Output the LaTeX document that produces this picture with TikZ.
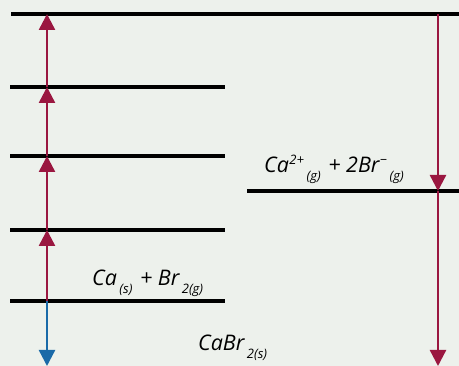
\documentclass[tikz,border=0pt]{standalone}
\usepackage{fontspec}
\setmainfont{Open Sans}
\usetikzlibrary{arrows.meta}
\definecolor{bgc}{HTML}{EDF1EC}
\definecolor{arrred}{HTML}{9A1740}
\definecolor{arrblue}{HTML}{1A6AA8}
\newcommand{\chsb}[1]{\hspace{2.5pt}\raisebox{-0.36em}{\fontsize{13}{13}\selectfont #1}}
\newcommand{\chsp}[1]{\hspace{0.5pt}\raisebox{0.40em}{\fontsize{13}{13}\selectfont #1}}
\begin{document}
\begin{tikzpicture}[x=1pt,y=1pt,
  level/.style={line width=3.5pt},
  redarr/.style={arrred, line width=2.4pt, -{Triangle[width=16pt,length=16pt]}},
  bluearr/.style={arrblue, line width=2.4pt, -{Triangle[width=16pt,length=16pt]}},
  lbl/.style={anchor=base west, inner sep=0pt, font=\fontsize{21.5}{25}\selectfont\itshape}]
\fill[bgc] (0,0) rectangle (459,366);
\useasboundingbox (0,0) rectangle (459,366);
% levels
\coordinate (t1) at (11,352); \coordinate (t2) at (459,352);
\coordinate (l2a) at (10,279); \coordinate (l2b) at (225,279);
\coordinate (l3a) at (10,210); \coordinate (l3b) at (225,210);
\coordinate (l4a) at (10,136); \coordinate (l4b) at (225,136);
\coordinate (l5a) at (10,65); \coordinate (l5b) at (225,65);
\coordinate (ra) at (247,175); \coordinate (rb) at (459,175);
\draw[level] (t1) -- (t2);
\draw[level] (l2a) -- (l2b);
\draw[level] (l3a) -- (l3b);
\draw[level] (l4a) -- (l4b);
\draw[level] (l5a) -- (l5b);
\draw[level] (ra) -- (rb);
% arrow points
\coordinate (p5) at (47,65);
\coordinate (p4) at (47,136);
\coordinate (p3) at (47,210);
\coordinate (p2) at (47,279);
\coordinate (p1) at (47,352);
\coordinate (pb) at (47,0);
\coordinate (q1) at (438,352);
\coordinate (q2) at (438,175);
\coordinate (q3) at (438,0);
\draw[redarr] (p5) -- (p4);
\draw[redarr] (p4) -- (p3);
\draw[redarr] (p3) -- (p2);
\draw[redarr] (p2) -- (p1);
\draw[bluearr] (p5) -- (pb);
\draw[redarr] (q1) -- (q2);
\draw[redarr] (q2) -- (q3);
% labels
\node[lbl] (reac) at (92,80) {Ca\chsb{(s)}\hspace{2pt} + Br\chsb{2(g)}};
\node[lbl] (ions) at (264,193) {Ca\chsp{2+}\chsb{(g)}\hspace{2pt} + 2Br\chsp{−}\chsb{(g)}};
\node[lbl] (prod) at (198,15) {CaBr\chsb{2(s)}};
\end{tikzpicture}
\end{document}
